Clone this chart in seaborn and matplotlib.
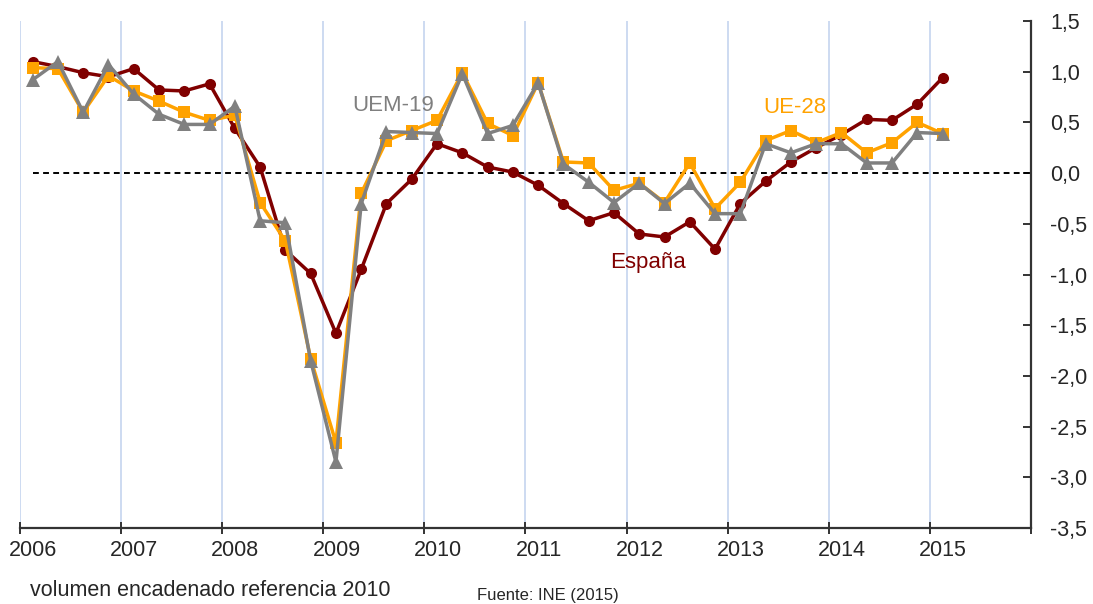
import numpy as np
import pandas as pd
import seaborn as sns
import matplotlib.pyplot as plt
from matplotlib.ticker import FixedLocator, FuncFormatter

# trimestres 2006T1 .. 2015T1 (posicion centrada en cada trimestre)
trimestres = [f"{a}T{q}" for a in range(2006, 2016) for q in range(1, 5)][:37]
fecha = [int(t[:4]) + (int(t[-1]) - 1) * 0.25 + 0.125 for t in trimestres]

espana = [1.10, 1.05, 0.99, 0.95, 1.03, 0.82, 0.81, 0.88,
          0.44, 0.06, -0.76, -0.99, -1.58, -0.95, -0.30, -0.06,
          0.29, 0.20, 0.06, 0.01, -0.12, -0.30, -0.47, -0.39,
          -0.60, -0.63, -0.48, -0.75, -0.30, -0.08, 0.11, 0.25,
          0.38, 0.53, 0.52, 0.68, 0.94]
ue28 = [1.04, 1.03, 0.60, 0.96, 0.81, 0.71, 0.60, 0.52,
        0.57, -0.29, -0.67, -1.83, -2.66, -0.20, 0.32, 0.42,
        0.52, 0.99, 0.49, 0.37, 0.89, 0.11, 0.10, -0.17,
        -0.10, -0.29, 0.10, -0.35, -0.09, 0.32, 0.42, 0.30,
        0.40, 0.20, 0.30, 0.50, 0.39]
uem19 = [0.92, 1.10, 0.60, 1.07, 0.78, 0.58, 0.48, 0.48,
         0.66, -0.47, -0.49, -1.85, -2.85, -0.30, 0.41, 0.40,
         0.39, 0.98, 0.39, 0.47, 0.89, 0.09, -0.09, -0.29,
         -0.10, -0.30, -0.10, -0.40, -0.40, 0.29, 0.20, 0.29,
         0.29, 0.10, 0.10, 0.40, 0.39]

anos = list(range(2006, 2017))
ano_labels = [str(a) for a in range(2006, 2016)]
y_ticks = [1.5, 1.0, 0.5, 0.0, -0.5, -1.0, -1.5, -2.0, -2.5, -3.0, -3.5]

df = pd.DataFrame({"fecha": fecha, "España": espana, "UE-28": ue28, "UEM-19": uem19})

sns.set_style("white")
plt.rcParams['font.family'] = ['Liberation Sans', 'DejaVu Sans']

fig = plt.figure(figsize=(10.93, 6.04), dpi=100)
ax = fig.add_axes([20 / 1093, 1 - 528 / 604, (1031 - 20) / 1093, (528 - 21) / 604])

# lineas verticales de cada año
for a in anos[:-1]:
    ax.axvline(a, color="#c9d8f0", lw=1.3, zorder=0)

ax.plot([fecha[0], 2016], [0, 0], ls=(0, (3, 2.2)), color="black", lw=1.4, zorder=1)

sns.lineplot(data=df, x="fecha", y="España", color="#800000", marker="o",
             markersize=8, markeredgewidth=0, linewidth=2.5, ax=ax, zorder=3)
sns.lineplot(data=df, x="fecha", y="UE-28", color="#ffa200", marker="s",
             markersize=8.5, markeredgewidth=0, linewidth=2.5, ax=ax, zorder=4)
sns.lineplot(data=df, x="fecha", y="UEM-19", color="#808080", marker="^",
             markersize=9.5, markeredgewidth=0, linewidth=2.5, ax=ax, zorder=5)

ax.set_xlim(2006, 2016)
ax.set_ylim(-3.5, 1.5)
ax.set_xlabel("")
ax.set_ylabel("")

for s in ["left", "top"]:
    ax.spines[s].set_visible(False)
for s in ["bottom", "right"]:
    ax.spines[s].set_color("#333333")
    ax.spines[s].set_linewidth(1.6)

ax.yaxis.tick_right()
ax.set_yticks(y_ticks)
ax.yaxis.set_major_formatter(FuncFormatter(lambda v, p: f"{v:.1f}".replace(".", ",")))
ax.tick_params(axis="y", direction="in", length=6, width=1.4, color="#333333",
               labelsize=15.5, pad=14, right=True, left=False)

ax.xaxis.set_major_locator(FixedLocator(anos))
ax.xaxis.set_minor_locator(FixedLocator([a + 0.13 for a in range(2006, 2016)]))
ax.set_xticklabels([""] * len(anos))
ax.set_xticklabels(ano_labels, minor=True)
ax.tick_params(axis="x", which="major", direction="inout", length=9, width=1.4,
               color="#333333", bottom=True)
ax.tick_params(axis="x", which="minor", length=0, labelsize=15.5, pad=9)

ax.text(2009.29, 0.665, "UEM-19", color="#7f7f7f", fontsize=16, va="center", ha="left")
ax.text(2013.35, 0.645, "UE-28", color="#ffa200", fontsize=16, va="center", ha="left")
ax.text(2011.84, -0.88, "España", color="#800000", fontsize=16, va="center", ha="left")

fig.text(30 / 1093, 1 - 590 / 604, "volumen encadenado referencia 2010",
         fontsize=15.5, va="center", ha="left")
fig.text(477 / 1093, 1 / 604, "Fuente: INE (2015)", fontsize=12,
         va="bottom", ha="left")

fig.savefig("out.png", dpi=100)
